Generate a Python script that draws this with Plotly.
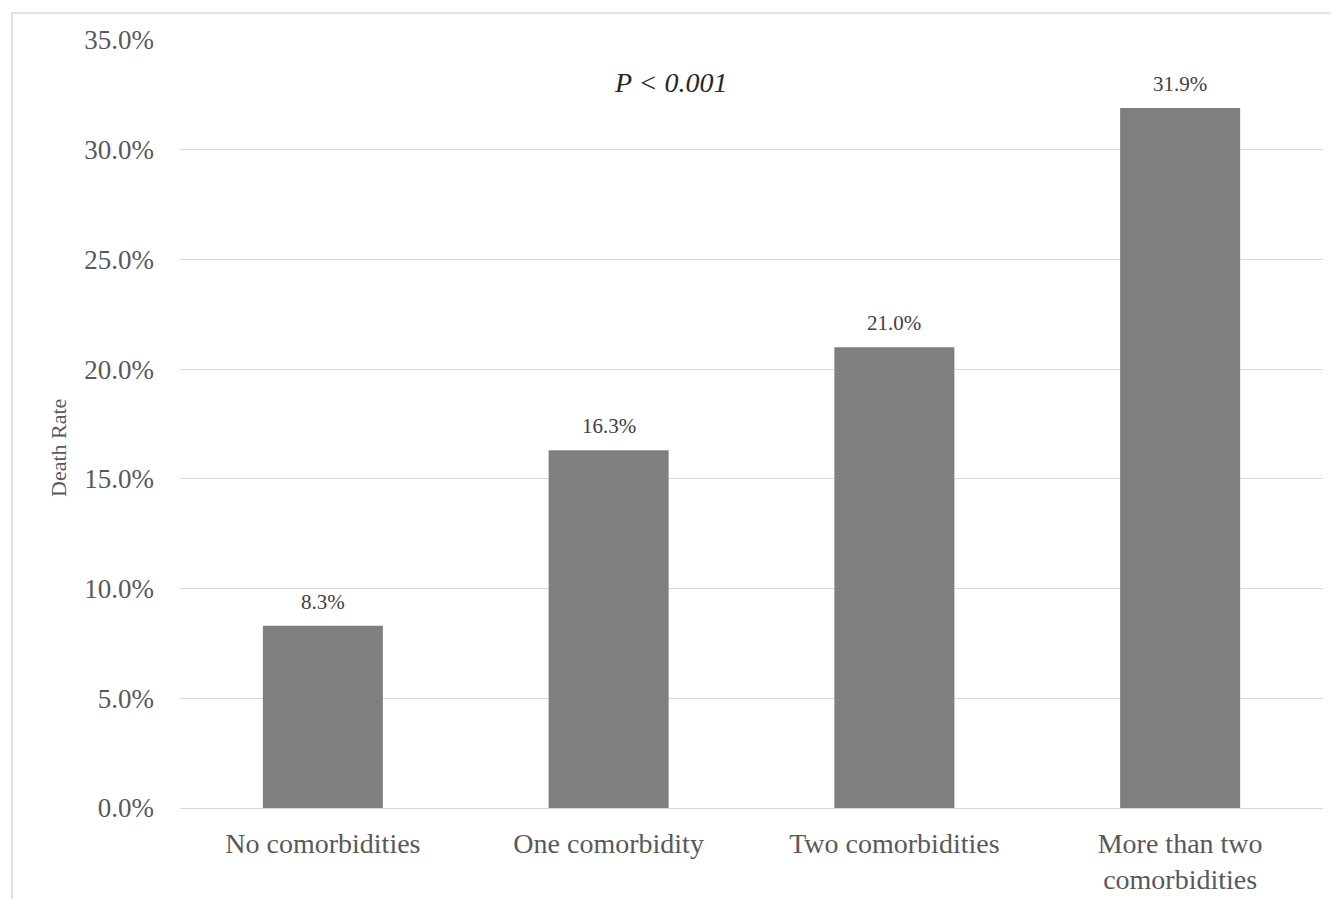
import plotly.graph_objects as go

categories = ["No comorbidities", "One comorbidity", "Two comorbidities", "More than two<br>comorbidities"]
death_rate = [8.3, 16.3, 21.0, 31.9]
tick_vals = [0, 5, 10, 15, 20, 25, 30, 35]
tick_text = ["0.0%", "5.0%", "10.0%", "15.0%", "20.0%", "25.0%", "30.0%", "35.0%"]
y_title = "Death Rate"
p_text = "P < 0.001"

FONT = "Liberation Serif, Times New Roman, serif"
OFF = 8  # page body margin
W, H = 1339 - OFF, 899 - OFF
L, T = 180 - OFF, 40 - OFF
R = W - (1323 - OFF)
B = H - (808 - OFF)
pw, ph = W - L - R, H - T - B

fig = go.Figure(go.Bar(
    x=categories, y=death_rate,
    marker=dict(color="#7f7f7f", line=dict(width=0)),
    width=0.42,
    hoverinfo="x+y",
))

labels = [dict(
    x=c, y=v, xref="x", yref="y", text=f"{v:.1f}%", showarrow=False,
    yanchor="middle", xanchor="center", yshift=24,
    font=dict(family=FONT, size=21, color="#404040"),
) for c, v in zip(categories, death_rate)]

labels.append(dict(
    text="<i>" + p_text + "</i>", xref="paper", yref="y",
    x=(671 - OFF - L) / pw, y=33.05,
    showarrow=False, font=dict(family=FONT, size=28, color="#262626"),
    xanchor="center", yanchor="middle",
))

labels.append(dict(
    text=y_title, xref="paper", yref="paper", textangle=-90,
    x=(58 - OFF - L) / pw, y=(808 - 448) / ph,
    showarrow=False, font=dict(family=FONT, size=22, color="#595959"),
    xanchor="center", yanchor="middle",
))

fig.update_layout(
    width=W, height=H,
    margin=dict(l=L, r=R, t=T, b=B, pad=0, autoexpand=False),
    paper_bgcolor="white", plot_bgcolor="white",
    showlegend=False,
    font=dict(family=FONT, color="#595959"),
    xaxis=dict(
        showgrid=False, showline=True, linecolor="#d9d9d9", linewidth=1,
        tickfont=dict(family=FONT, size=28, color="#595959"),
        ticks="", ticklabelstandoff=10, automargin=False,
    ),
    yaxis=dict(
        range=[0, 35], tickvals=tick_vals, ticktext=tick_text,
        showgrid=True, gridcolor="#d9d9d9", gridwidth=1,
        zeroline=False, showline=False, ticks="",
        tickfont=dict(family=FONT, size=27, color="#595959"),
        ticklabelstandoff=25, automargin=False,
    ),
    annotations=labels,
    shapes=[dict(
        type="rect", xref="paper", yref="paper",
        x0=(12 - OFF - L) / pw, x1=(W + 10 - L) / pw,
        y0=-(B + 10) / ph, y1=(ph + T - (13 - OFF)) / ph,
        line=dict(color="#d9d9d9", width=1.5), fillcolor="rgba(0,0,0,0)", layer="below",
    )],
)

fig.write_html("out.html")
